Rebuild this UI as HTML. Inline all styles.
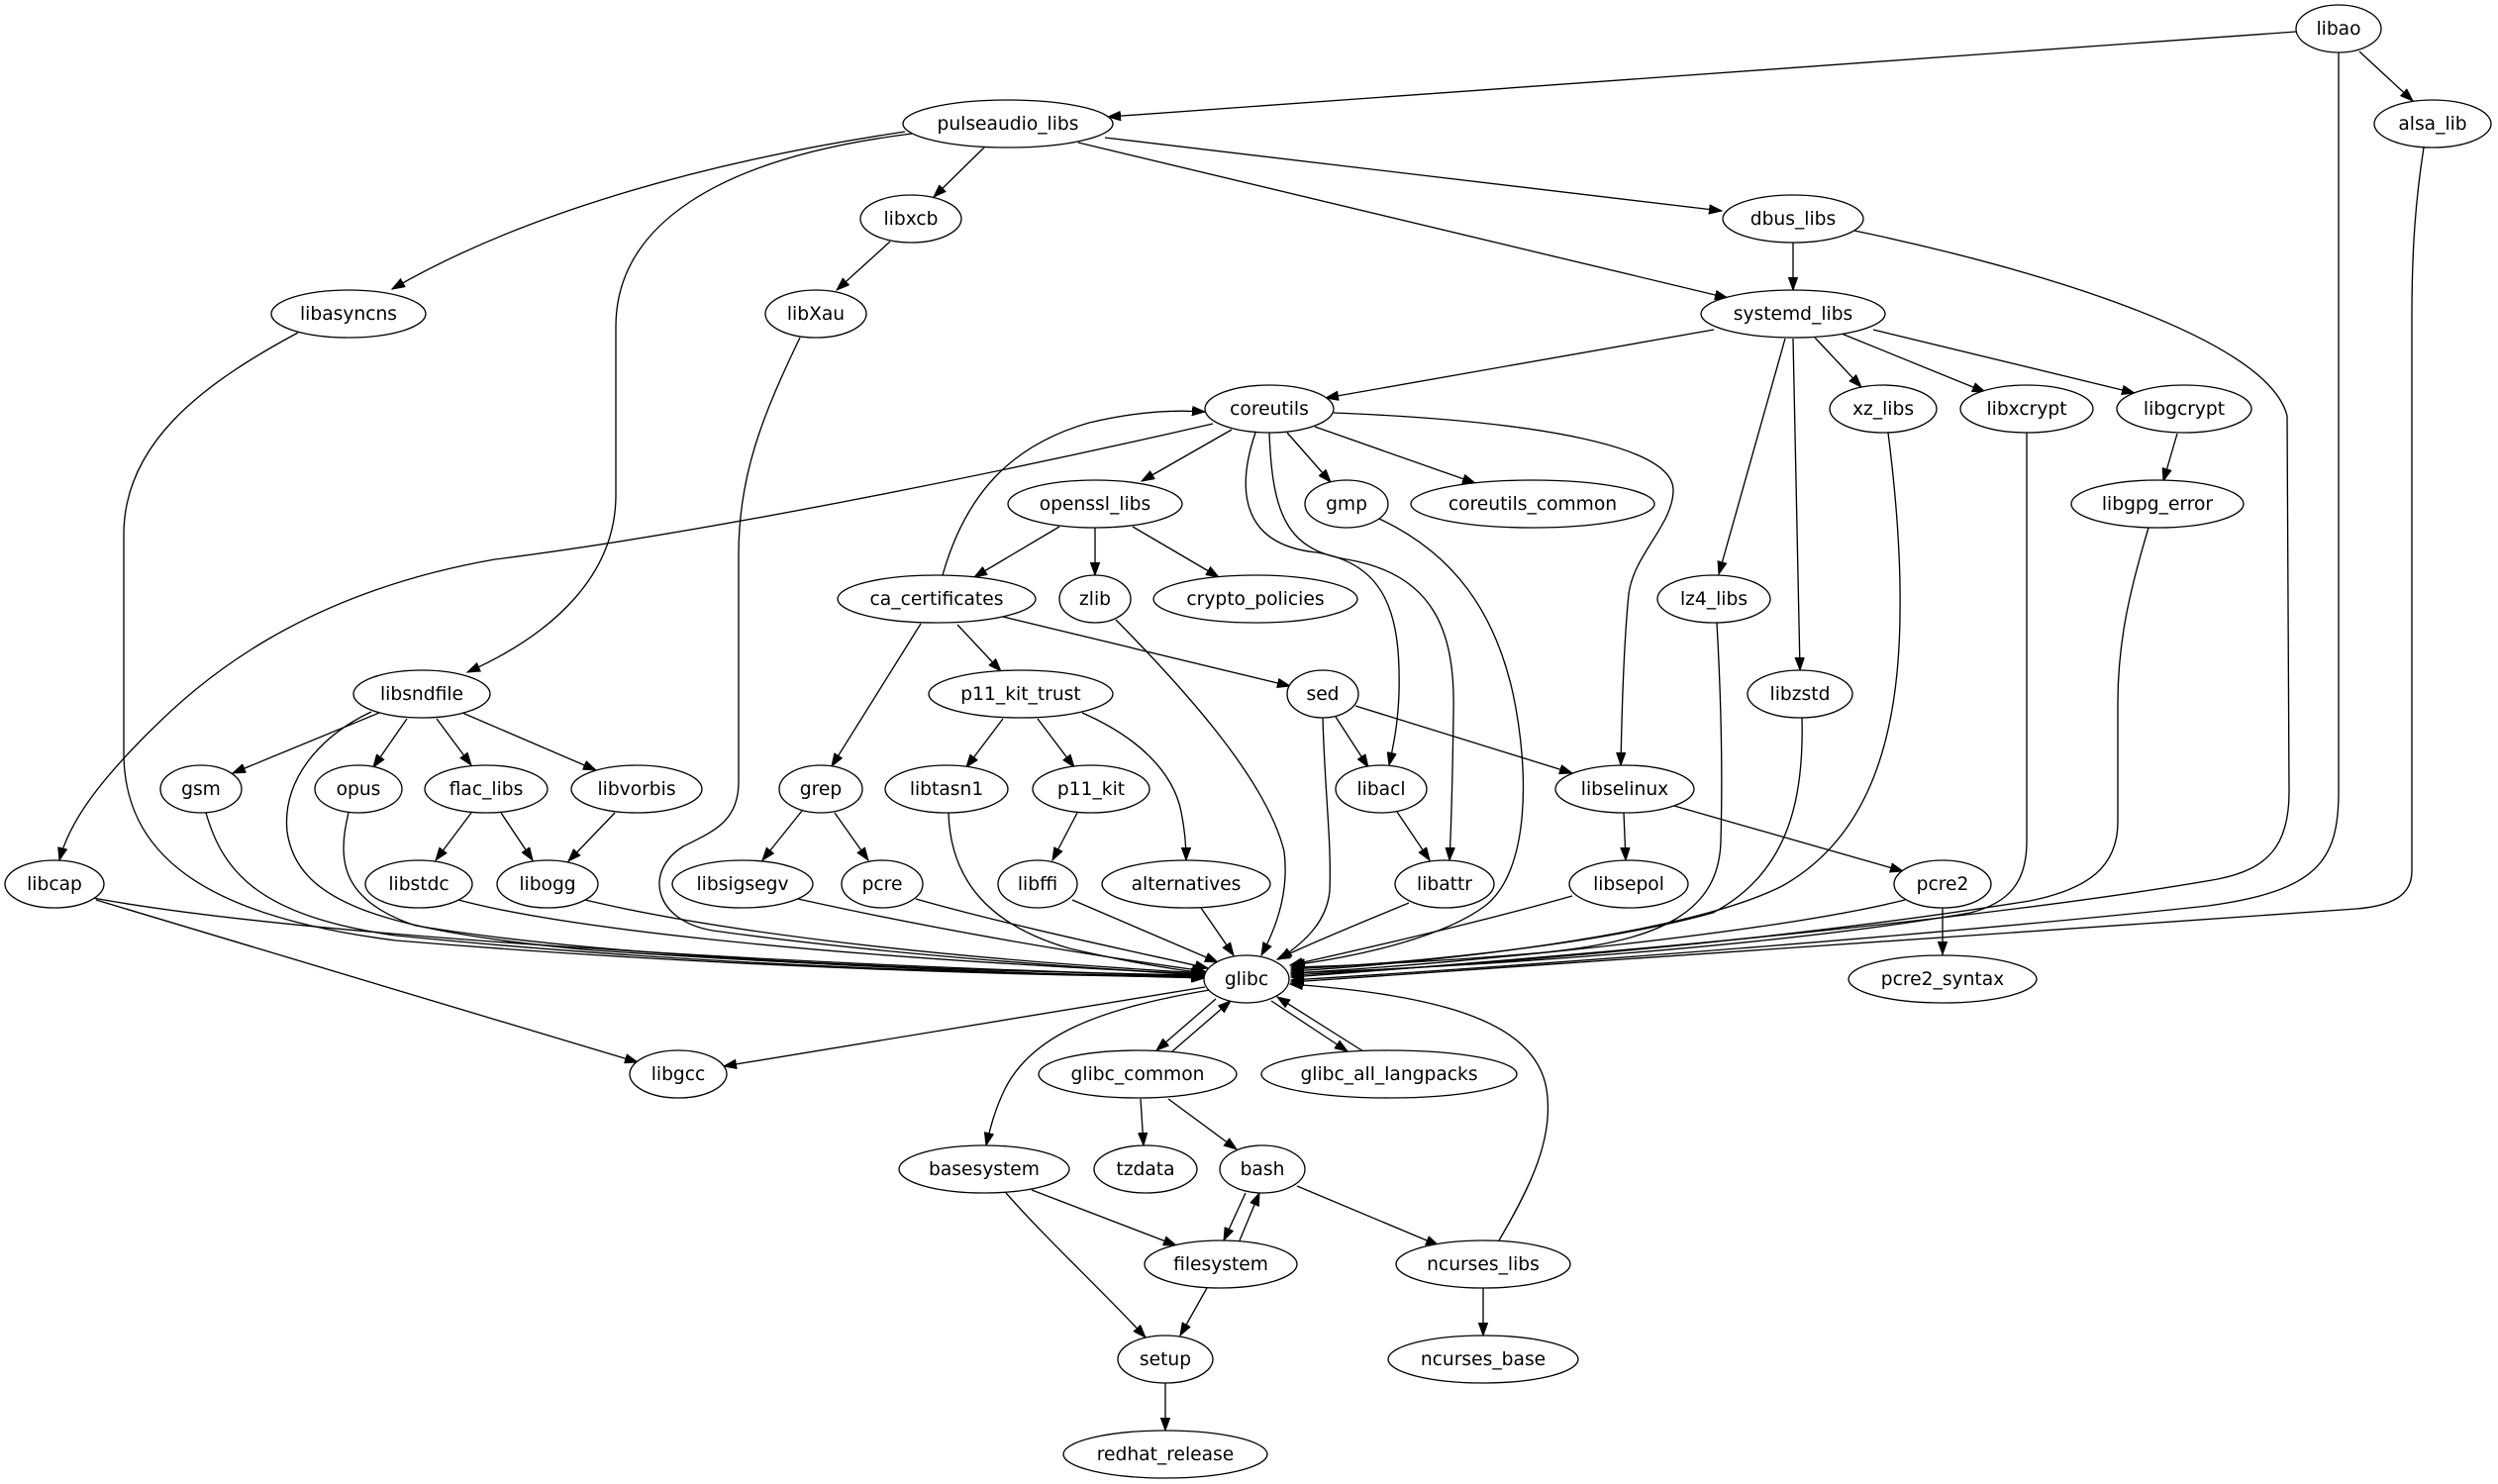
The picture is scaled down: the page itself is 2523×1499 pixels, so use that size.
<!DOCTYPE html>
<html><head><meta charset="utf-8"><style>
html,body{margin:0;padding:0;background:#fff;}
svg{display:block;}
text{font-family:"DejaVu Sans","Liberation Sans",sans-serif;font-size:18.67px;fill:#000;}
</style></head><body>
<svg width="2523" height="1499" viewBox="0 0 2523 1499" xmlns="http://www.w3.org/2000/svg">
<defs><marker id="a" markerUnits="userSpaceOnUse" markerWidth="14" markerHeight="10" refX="13" refY="5" orient="auto"><path d="M0,0.3 L13,5 L0,9.7z" fill="#000" stroke="#000" stroke-width="1"/></marker></defs>
<rect width="2523" height="1499" fill="#fff"/>
<g fill="none" stroke="#000" stroke-width="1.33" marker-end="url(#a)">
<path d="M2319,32 L1119,118"/>
<path d="M2383,52 L2437,102"/>
<path d="M2362,53 L2362,800 C2362,870 2340,900 2230,915 C1950,945 1550,975 1304,990"/>
<path d="M2448,149 C2440,200 2436,250 2436,320 L2436,880 C2436,905 2415,915 2380,918 C2000,945 1600,970 1304,992"/>
<path d="M1873,233 C2050,270 2290,340 2310,420 L2312,800 C2312,855 2290,878 2240,888 C2000,930 1600,965 1304,987"/>
<path d="M2170,533 C2150,600 2139,650 2139,710 L2139,830 C2139,875 2110,898 2050,910 C1800,950 1500,975 1304,985"/>
<path d="M2047,437 L2047,850 C2047,890 2030,912 1990,922 C1800,955 1500,976 1304,983"/>
<path d="M1907,437 C1915,500 1920,560 1919,620 C1918,760 1880,850 1800,895 C1700,945 1450,972 1304,981"/>
<path d="M1820,725 C1822,800 1810,880 1730,922 C1600,958 1400,974 1304,979"/>
<path d="M1734,629 C1738,700 1740,780 1738,850 C1736,920 1680,950 1560,962 C1450,972 1350,976 1304,977"/>
<path d="M1588,905 C1500,930 1380,958 1303,975"/>
<path d="M1924,909 C1800,940 1500,972 1304,983"/>
<path d="M1336,725 C1338,800 1345,850 1343,900 C1340,930 1320,950 1292,969"/>
<path d="M1423,912 C1380,930 1330,950 1290,969"/>
<path d="M1268,437 C1250,490 1250,550 1330,558 C1400,570 1415,620 1413,700 C1412,730 1408,750 1403,773"/>
<path d="M1282,437 C1285,520 1300,555 1360,565 C1450,580 1470,640 1468,720 C1467,790 1466,830 1464,869"/>
<path d="M1393,524 C1470,560 1510,620 1528,700 C1545,780 1545,880 1500,915 C1460,945 1380,965 1305,975"/>
<path d="M1347,417 C1550,425 1690,450 1690,495 C1690,530 1650,560 1645,600 C1640,650 1638,720 1637,773"/>
<path d="M1225,428 C1000,480 700,540 500,565 C300,600 200,690 150,740 C100,790 70,830 60,869"/>
<path d="M952,581 C975,500 1020,450 1100,427 C1150,415 1190,414 1217,416"/>
<path d="M1244,434 L1153,486"/>
<path d="M1300,437 L1344,487"/>
<path d="M1328,431 L1490,488"/>
<path d="M1731,333 L1339,402"/>
<path d="M994,149 L943,199"/>
<path d="M1116,139 L1739,213"/>
<path d="M1089,144 L1745,301"/>
<path d="M914,133 C700,165 520,220 396,292"/>
<path d="M921,135 C720,160 622,230 622,330 L622,500 C622,580 560,640 472,679"/>
<path d="M899,244 L845,293"/>
<path d="M808,341 C770,420 746,480 746,560 L746,790 C746,830 720,840 690,855 C650,880 660,930 720,940 C900,965 1100,978 1216,985"/>
<path d="M301,336 C200,390 125,450 125,540 L125,760 C125,860 200,925 400,950 C700,975 1000,985 1216,987"/>
<path d="M375,719 C320,745 285,790 290,840 C300,910 380,940 600,960 C900,980 1100,985 1216,988"/>
<path d="M383,720 L235,781"/>
<path d="M411,726 L377,775"/>
<path d="M441,726 L476,773"/>
<path d="M467,720 L602,778"/>
<path d="M208,821 C225,880 260,925 400,945 C700,975 1000,984 1216,986"/>
<path d="M352,821 C340,870 345,910 420,935 C600,965 900,980 1216,985"/>
<path d="M476,821 L440,869"/>
<path d="M506,821 L538,869"/>
<path d="M621,821 L574,870"/>
<path d="M463,909 C560,935 800,965 1216,984"/>
<path d="M591,909 C700,935 900,965 1216,983"/>
<path d="M806,908 C950,940 1100,965 1217,981"/>
<path d="M925,908 C1020,935 1140,960 1220,978"/>
<path d="M958,821 C960,890 1000,935 1080,958 C1140,972 1190,980 1218,983"/>
<path d="M1083,909 L1230,972"/>
<path d="M1213,917 L1246,965"/>
<path d="M1127,626 C1200,700 1280,790 1297,860 C1302,900 1290,935 1274,965"/>
<path d="M1013,726 L976,775"/>
<path d="M1048,726 L1085,775"/>
<path d="M1093,720 C1150,745 1185,780 1193,820 C1197,840 1198,855 1198,869"/>
<path d="M1088,821 L1063,869"/>
<path d="M810,819 L770,869"/>
<path d="M843,821 L877,869"/>
<path d="M930,630 L840,774"/>
<path d="M967,631 L1011,678"/>
<path d="M1013,623 L1303,693"/>
<path d="M1070,532 L984,583"/>
<path d="M1106,533 L1106,581"/>
<path d="M1144,532 L1231,583"/>
<path d="M1349,724 L1382,775"/>
<path d="M1369,713 L1588,781"/>
<path d="M1411,820 L1444,869"/>
<path d="M1640,821 L1642,869"/>
<path d="M1691,814 L1922,880"/>
<path d="M1962,917 L1962,964"/>
<path d="M1811,245 L1811,293"/>
<path d="M1833,341 L1880,391"/>
<path d="M1860,337 L2005,396"/>
<path d="M1892,333 L2156,397"/>
<path d="M1803,342 L1736,580"/>
<path d="M1811,342 L1818,677"/>
<path d="M2199,438 L2185,486"/>
<path d="M1217,997 L731,1077"/>
<path d="M1228,1009 L1168,1061"/>
<path d="M1184,1062 L1243,1011"/>
<path d="M1284,1011 L1361,1062"/>
<path d="M1377,1062 L1290,1007"/>
<path d="M1222,1000 C1100,1020 1040,1050 1015,1100 C1005,1120 1000,1140 996,1157"/>
<path d="M1152,1110 L1155,1157"/>
<path d="M1180,1110 L1249,1161"/>
<path d="M1042,1202 L1188,1258"/>
<path d="M1016,1205 C1060,1255 1110,1300 1157,1351"/>
<path d="M1258,1205 L1236,1253"/>
<path d="M1252,1253 L1272,1205"/>
<path d="M1310,1198 L1453,1258"/>
<path d="M1514,1253 C1545,1200 1570,1150 1562,1100 C1550,1030 1450,1005 1303,994"/>
<path d="M1498,1301 L1498,1349"/>
<path d="M1219,1301 L1192,1349"/>
<path d="M1177,1397 L1177,1445"/>
<path d="M94,907 C300,945 800,975 1216,986"/>
<path d="M97,909 L644,1073"/>
</g>
<g fill="#fff" stroke="#000" stroke-width="1.33">
<ellipse cx="2362" cy="29" rx="43" ry="24"/>
<ellipse cx="1018" cy="125" rx="106" ry="24"/>
<ellipse cx="2457" cy="125" rx="59" ry="24"/>
<ellipse cx="920" cy="221" rx="51" ry="24"/>
<ellipse cx="1811" cy="221" rx="71" ry="24"/>
<ellipse cx="352" cy="317" rx="78" ry="24"/>
<ellipse cx="824" cy="317" rx="51" ry="24"/>
<ellipse cx="1811" cy="317" rx="93" ry="24"/>
<ellipse cx="1282" cy="413" rx="65" ry="24"/>
<ellipse cx="1902" cy="413" rx="54" ry="24"/>
<ellipse cx="2047" cy="413" rx="67" ry="24"/>
<ellipse cx="2206" cy="413" rx="68" ry="24"/>
<ellipse cx="1106" cy="509" rx="88" ry="24"/>
<ellipse cx="1360" cy="509" rx="42" ry="24"/>
<ellipse cx="1548" cy="509" rx="123" ry="24"/>
<ellipse cx="2179" cy="509" rx="87" ry="24"/>
<ellipse cx="946" cy="605" rx="100" ry="24"/>
<ellipse cx="1106" cy="605" rx="36" ry="24"/>
<ellipse cx="1268" cy="605" rx="103" ry="24"/>
<ellipse cx="1731" cy="605" rx="57" ry="24"/>
<ellipse cx="426" cy="701" rx="69" ry="24"/>
<ellipse cx="1031" cy="701" rx="93" ry="24"/>
<ellipse cx="1336" cy="701" rx="36" ry="24"/>
<ellipse cx="1818" cy="701" rx="53" ry="24"/>
<ellipse cx="203" cy="797" rx="41" ry="24"/>
<ellipse cx="362" cy="797" rx="44" ry="24"/>
<ellipse cx="491" cy="797" rx="62" ry="24"/>
<ellipse cx="643" cy="797" rx="66" ry="24"/>
<ellipse cx="829" cy="797" rx="42" ry="24"/>
<ellipse cx="956" cy="797" rx="62" ry="24"/>
<ellipse cx="1102" cy="797" rx="59" ry="24"/>
<ellipse cx="1395" cy="797" rx="46" ry="24"/>
<ellipse cx="1641" cy="797" rx="70" ry="24"/>
<ellipse cx="55" cy="893" rx="50" ry="24"/>
<ellipse cx="423" cy="893" rx="54" ry="24"/>
<ellipse cx="553" cy="893" rx="51" ry="24"/>
<ellipse cx="750" cy="893" rx="71" ry="24"/>
<ellipse cx="891" cy="893" rx="41" ry="24"/>
<ellipse cx="1048" cy="893" rx="40" ry="24"/>
<ellipse cx="1198" cy="893" rx="85" ry="24"/>
<ellipse cx="1459" cy="893" rx="50" ry="24"/>
<ellipse cx="1645" cy="893" rx="60" ry="24"/>
<ellipse cx="1962" cy="893" rx="49" ry="24"/>
<ellipse cx="1259" cy="989" rx="43" ry="24"/>
<ellipse cx="1962" cy="989" rx="95" ry="24"/>
<ellipse cx="685" cy="1085" rx="49" ry="24"/>
<ellipse cx="1149" cy="1085" rx="100" ry="24"/>
<ellipse cx="1403" cy="1085" rx="129" ry="24"/>
<ellipse cx="994" cy="1181" rx="86" ry="24"/>
<ellipse cx="1157" cy="1181" rx="52" ry="24"/>
<ellipse cx="1275" cy="1181" rx="43" ry="24"/>
<ellipse cx="1233" cy="1277" rx="77" ry="24"/>
<ellipse cx="1498" cy="1277" rx="88" ry="24"/>
<ellipse cx="1177" cy="1373" rx="48" ry="24"/>
<ellipse cx="1498" cy="1373" rx="96" ry="24"/>
<ellipse cx="1177" cy="1469" rx="103" ry="24"/>
</g>
<g text-anchor="middle">
<text x="2362" y="35">libao</text>
<text x="1018" y="131">pulseaudio_libs</text>
<text x="2457" y="131">alsa_lib</text>
<text x="920" y="227">libxcb</text>
<text x="1811" y="227">dbus_libs</text>
<text x="352" y="323">libasyncns</text>
<text x="824" y="323">libXau</text>
<text x="1811" y="323">systemd_libs</text>
<text x="1282" y="419">coreutils</text>
<text x="1902" y="419">xz_libs</text>
<text x="2047" y="419">libxcrypt</text>
<text x="2206" y="419">libgcrypt</text>
<text x="1106" y="515">openssl_libs</text>
<text x="1360" y="515">gmp</text>
<text x="1548" y="515">coreutils_common</text>
<text x="2179" y="515">libgpg_error</text>
<text x="946" y="611">ca_certificates</text>
<text x="1106" y="611">zlib</text>
<text x="1268" y="611">crypto_policies</text>
<text x="1731" y="611">lz4_libs</text>
<text x="426" y="707">libsndfile</text>
<text x="1031" y="707">p11_kit_trust</text>
<text x="1336" y="707">sed</text>
<text x="1818" y="707">libzstd</text>
<text x="203" y="803">gsm</text>
<text x="362" y="803">opus</text>
<text x="491" y="803">flac_libs</text>
<text x="643" y="803">libvorbis</text>
<text x="829" y="803">grep</text>
<text x="956" y="803">libtasn1</text>
<text x="1102" y="803">p11_kit</text>
<text x="1395" y="803">libacl</text>
<text x="1641" y="803">libselinux</text>
<text x="55" y="899">libcap</text>
<text x="423" y="899">libstdc</text>
<text x="553" y="899">libogg</text>
<text x="750" y="899">libsigsegv</text>
<text x="891" y="899">pcre</text>
<text x="1048" y="899">libffi</text>
<text x="1198" y="899">alternatives</text>
<text x="1459" y="899">libattr</text>
<text x="1645" y="899">libsepol</text>
<text x="1962" y="899">pcre2</text>
<text x="1259" y="995">glibc</text>
<text x="1962" y="995">pcre2_syntax</text>
<text x="685" y="1091">libgcc</text>
<text x="1149" y="1091">glibc_common</text>
<text x="1403" y="1091">glibc_all_langpacks</text>
<text x="994" y="1187">basesystem</text>
<text x="1157" y="1187">tzdata</text>
<text x="1275" y="1187">bash</text>
<text x="1233" y="1283">filesystem</text>
<text x="1498" y="1283">ncurses_libs</text>
<text x="1177" y="1379">setup</text>
<text x="1498" y="1379">ncurses_base</text>
<text x="1177" y="1475">redhat_release</text>
</g>
</svg>
</body></html>
